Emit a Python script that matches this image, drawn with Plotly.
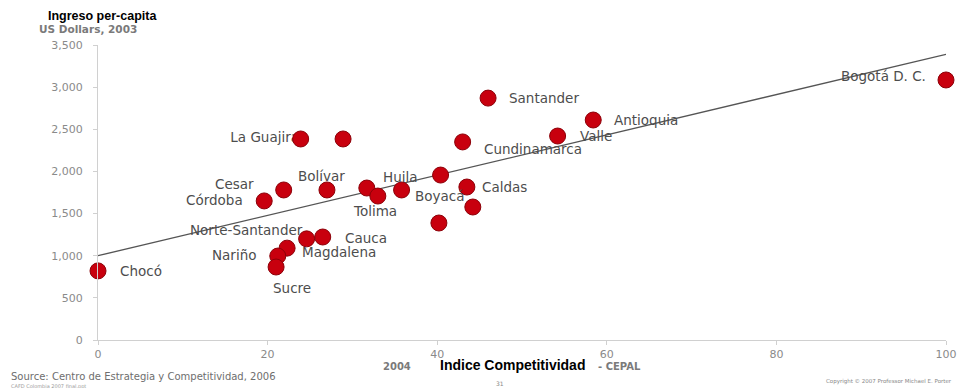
import plotly.graph_objects as go

# ---- data ----
departments = ["Chocó", "Córdoba", "Cesar", "La Guajira", "", "Bolívar", "", "Tolima",
               "Boyacá", "Huila", "Caldas", "", "", "Cundinamarca", "Santander",
               "Valle", "Antioquia", "Bogotá D. C.", "Norte-Santander", "Cauca",
               "Magdalena", "Nariño", "Sucre"]
competitividad = [0, 19.6, 21.9, 23.9, 28.9, 27.0, 31.7, 33.0,
                  35.8, 40.4, 43.5, 44.2, 40.2, 43.0, 46.0,
                  54.2, 58.4, 100.0, 24.6, 26.5,
                  22.3, 21.2, 21.0]
ingreso = [820, 1650, 1780, 2385, 2385, 1780, 1803, 1708,
           1780, 1957, 1815, 1578, 1388, 2350, 2870,
           2420, 2610, 3085, 1200, 1222,
           1090, 996, 866]
trend_x = [0, 100]
trend_y = [1000, 3390]
x_ticks = [0, 20, 40, 60, 80, 100]
y_ticks = [0, 500, 1000, 1500, 2000, 2500, 3000, 3500]

# label placement (pixel offsets from point, anchor)
label_style = {
    "Chocó": (20, 0, "left"),
    "Córdoba": (-19, 1, "right"),
    "Cesar": (-28, 6, "right"),
    "Bolívar": (-5, 14, "center"),
    "Tolima": (-3, -15, "center"),
    "Boyacá": (11, -6, "left"),
    "Huila": (-22, -2, "right"),
    "Caldas": (13, 0, "left"),
    "Cundinamarca": (19, -7, "left"),
    "Santander": (19, 0, "left"),
    "Valle": (20, 0, "left"),
    "Antioquia": (19, 0, "left"),
    "Bogotá D. C.": (-18, 4, "right"),
    "Norte-Santander": (-2, 9, "right"),
    "Cauca": (20, -1, "left"),
    "Magdalena": (13, -4, "left"),
    "Nariño": (-19, 1, "right"),
    "Sucre": (16, -21, "center"),
}

LBL = "#4d4d4d"
GREY = "#8a8a8a"
FONT = "Liberation Sans, Arial, sans-serif"
WIDE = "DejaVu Sans, Verdana, sans-serif"
LBL_SIZE = 13.5

fig = go.Figure()

fig.add_trace(go.Scatter(x=trend_x, y=trend_y, mode="lines",
                         line=dict(color="#555555", width=1.3),
                         hoverinfo="skip", showlegend=False))

# La Guajira label drawn beneath markers
gi = departments.index("La Guajira")
fig.add_trace(go.Scatter(x=[competitividad[gi]], y=[ingreso[gi]], mode="markers+text",
                         text=["La Guajira"], textposition="middle left",
                         marker=dict(size=1, opacity=0),
                         textfont=dict(family=WIDE, size=LBL_SIZE, color=LBL),
                         showlegend=False, hoverinfo="skip", cliponaxis=False))

fig.add_trace(go.Scatter(x=competitividad, y=ingreso, mode="markers",
                         marker=dict(size=16, color="#c8000e",
                                     line=dict(color="#8c0008", width=1)),
                         text=departments, showlegend=False, cliponaxis=False))

for name, xv, yv in zip(departments, competitividad, ingreso):
    if name in label_style:
        dx, dy, anc = label_style[name]
        fig.add_annotation(x=xv, y=yv, xref="x", yref="y", text=name, showarrow=False,
                           xanchor=anc, yanchor="middle", xshift=dx, yshift=dy,
                           font=dict(family=WIDE, size=LBL_SIZE, color=LBL))

W, H = 959, 388
L, R, T, B = 98, 13, 45, 48
pw, ph = W - L - R, H - T - B


def px(xp, yp):
    return (xp - L) / pw, (H - B - yp) / ph


def add_text(text, xp, yp, size, color, bold=False, anchor="left", family=FONT):
    xx, yy = px(xp, yp)
    fig.add_annotation(x=xx, y=yy, xref="paper", yref="paper", text=f"<b>{text}</b>" if bold else text,
                       showarrow=False, xanchor=anchor, yanchor="middle",
                       font=dict(family=family, size=size, color=color))


add_text("Ingreso per-capita", 46, 16, 12.5, "#000000", bold=True)
add_text("US Dollars, 2003", 37, 29, 10.5, "#7a7a7a", bold=True, family=WIDE)
add_text("2004", 397, 366, 10, "#7a7a7a", bold=True, anchor="center", family=WIDE)
add_text("Indice Competitividad", 512, 365, 14, "#000000", bold=True, anchor="center")
add_text("- CEPAL", 596, 366, 10, "#7a7a7a", bold=True, family=WIDE)
add_text("Source: Centro de Estrategia y Competitividad, 2006", 9, 376.5, 10, "#6e6e6e", family=WIDE)
add_text("CAFD Colombia 2007 final.ppt", 9, 386, 5, "#9a9a9a", family=WIDE)
add_text("31", 500, 383, 6, "#888888", anchor="center", family=WIDE)
add_text("Copyright © 2007 Professor Michael E. Porter", 824, 381, 5.5, "#888888", family=WIDE)

fig.update_layout(
    width=W, height=H,
    margin=dict(l=L, r=R, t=T, b=B, autoexpand=False),
    paper_bgcolor="white", plot_bgcolor="white",
    font=dict(family=FONT),
    xaxis=dict(range=[0, 100], tickvals=x_ticks, ticktext=[str(v) for v in x_ticks],
               automargin=False,
               showgrid=False, zeroline=False, showline=True, linecolor="#d0d0d0",
               ticks="outside", ticklen=4, tickcolor="#d0d0d0",
               tickfont=dict(size=11, color=GREY, family=WIDE)),
    yaxis=dict(range=[0, 3500], tickvals=y_ticks, ticktext=[f"{v:,}" for v in y_ticks],
               automargin=False,
               showgrid=False, zeroline=False, showline=True, linecolor="#d0d0d0",
               ticks="outside", ticklen=4, tickcolor="#d0d0d0", ticklabelstandoff=8,
               tickfont=dict(size=11, color=GREY, family=WIDE)),
)

fig.write_html("out.html", config={"displayModeBar": False},
               post_script="document.body.style.margin='0';document.body.style.overflow='hidden';")
